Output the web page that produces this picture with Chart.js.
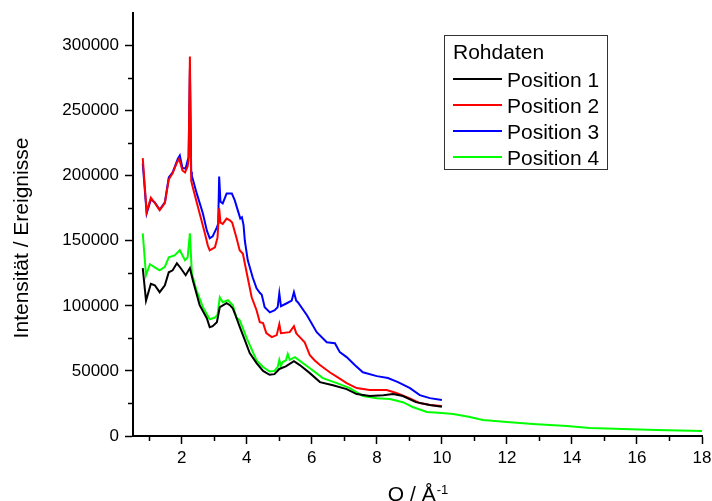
<!DOCTYPE html>
<html>
<head>
<meta charset="utf-8">
<script src="https://cdn.jsdelivr.net/npm/chart.js@4.4.0/dist/chart.umd.min.js"></script>
<style>
  body { margin: 0; background: #fff; }
</style>
</head>
<body>
<canvas id="myChart" width="712" height="501"></canvas>
<script>
// --- data ---
var seriesNames = ["Position 1", "Position 2", "Position 3", "Position 4"];
var seriesColors = ["#000000", "#ff0000", "#0000ff", "#00ff00"];
var legendTitle = "Rohdaten";

var xTicks = [2, 4, 6, 8, 10, 12, 14, 16, 18];
var xMinorTicks = [1, 3, 5, 7, 9, 11, 13, 15, 17];
var yTicks = [0, 50000, 100000, 150000, 200000, 250000, 300000];
var yMinorTicks = [25000, 75000, 125000, 175000, 225000, 275000];

// Position 1 (black)
var q1 = [0.8, 0.9, 1.05, 1.17, 1.32, 1.48, 1.6, 1.72, 1.85, 1.97, 2.12, 2.25, 2.34, 2.55, 2.77, 2.86, 2.95, 3.08, 3.17,
  3.38, 3.48, 3.57, 3.63, 3.78, 3.94, 4.09, 4.3, 4.5, 4.7, 4.85, 5.0, 5.2, 5.45, 5.63, 5.94, 6.25, 6.65, 7.07, 7.38,
  7.78, 8.2, 8.5, 8.8, 9.2, 9.63, 10.0];
var v1 = [129000, 104000, 117000, 115800, 110500, 115800, 125800, 127300, 132700, 128900, 123500, 129000, 119600, 100500,
  90500, 83600, 84400, 87400, 99000, 102000, 100500, 98000, 94300, 84000, 73600, 63700, 56000, 50000, 47000, 47500,
  51500, 53500, 57500, 54500, 48300, 41400, 39000, 36000, 32200, 30700, 31400, 32200, 30700, 26000, 23800, 22500];

// Position 2 (red)
var q2 = [0.8, 0.92, 1.05, 1.17, 1.32, 1.48, 1.6, 1.72, 1.85, 1.92, 2.02, 2.1, 2.18, 2.21, 2.25, 2.29, 2.35, 2.55, 2.71,
  2.8, 2.86, 3.02, 3.1, 3.15, 3.19, 3.26, 3.38, 3.48, 3.55, 3.68, 3.78, 3.88, 4.0, 4.15, 4.3, 4.4, 4.5, 4.6, 4.77,
  4.92, 5.0, 5.05, 5.32, 5.45, 5.52, 5.57, 5.78, 5.94, 6.09, 6.25, 6.55, 6.8, 7.07, 7.38, 7.78, 8.3, 8.6, 9.0, 9.32,
  9.63, 10.0];
var v2 = [213500, 172000, 183000, 179000, 173500, 179000, 197000, 202000, 210000, 213000, 204000, 202500, 207000, 212000,
  291500, 196000, 190000, 171000, 155700, 146500, 142700, 145000, 152600, 175000, 164000, 163000, 167000, 165700,
  164000, 152600, 142700, 140000, 125000, 106600, 96600, 87400, 86700, 79000, 76000, 77500, 86000, 79000, 79800,
  84400, 79000, 77500, 72000, 62000, 58000, 54500, 49000, 45000, 40600, 36800, 35300, 35300, 33000, 29000, 25300,
  23800, 23000];

// Position 3 (blue)
var q3 = [0.8, 0.92, 1.05, 1.17, 1.32, 1.48, 1.6, 1.72, 1.88, 1.94, 2.02, 2.12, 2.18, 2.21, 2.25, 2.29, 2.31, 2.46, 2.65,
  2.77, 2.86, 2.95, 3.08, 3.12, 3.15, 3.19, 3.26, 3.38, 3.54, 3.63, 3.74, 3.8, 3.85, 3.9, 3.94, 4.03, 4.18, 4.3, 4.4,
  4.46, 4.55, 4.71, 4.86, 4.95, 5.0, 5.05, 5.23, 5.38, 5.45, 5.52, 5.57, 5.85, 6.15, 6.46, 6.71, 6.86, 7.07, 7.32,
  7.57, 8.0, 8.34, 8.65, 9.02, 9.32, 9.63, 10.0];
var v3 = [209400, 171000, 181800, 179500, 174000, 179500, 198600, 202500, 213000, 215500, 206000, 205500, 211700, 214000,
  281500, 203000, 200000, 186400, 171000, 158000, 151900, 153400, 160300, 163000, 199400, 180000, 178700, 186400,
  186400, 181000, 172000, 167000, 168000, 162000, 150000, 135000, 122000, 113500, 110000, 108500, 99000, 95000,
  96600, 99000, 109700, 99700, 102000, 104000, 110500, 104000, 102800, 92800, 79800, 72000, 71300, 64400, 60600,
  54500, 49000, 46000, 44500, 41400, 36800, 31400, 29100, 27600];

// Position 4 (green)
var q4 = [0.8, 0.9, 1.02, 1.17, 1.32, 1.48, 1.6, 1.78, 1.94, 2.1, 2.18, 2.25, 2.31, 2.45, 2.65, 2.86, 3.02, 3.1, 3.17,
  3.26, 3.42, 3.57, 3.68, 3.78, 4.0, 4.3, 4.5, 4.7, 4.85, 4.95, 5.0, 5.05, 5.1, 5.2, 5.26, 5.32, 5.48, 5.94, 6.34,
  6.77, 7.17, 7.57, 8.0, 8.4, 8.8, 9.1, 9.54, 10.0, 10.35, 10.86, 11.26, 12.0, 12.8, 13.85, 14.55, 15.57, 16.6, 18.0];
var v4 = [155700, 123500, 132000, 129600, 127300, 130000, 137300, 138800, 142700, 135000, 137300, 155700, 125000, 112000,
  99000, 89700, 91000, 93000, 106600, 102800, 104300, 100500, 91000, 89000, 75000, 58000, 53000, 49500, 50000, 53000,
  58500, 54000, 56800, 58000, 63000, 58500, 60600, 52000, 44500, 40600, 36800, 30700, 29000, 28400, 26000, 22300,
  18400, 17600, 16900, 14600, 12300, 10700, 9200, 7700, 6100, 5400, 4600, 3800];

var qs = [q1, q2, q3, q4];
var vs = [v1, v2, v3, v4];

var FONT = "'Liberation Sans', Arial, sans-serif";

function toPoints(q, v) {
  var pts = [];
  for (var i = 0; i < q.length; i++) pts.push({ x: q[i], y: v[i] });
  return pts;
}

var datasets = [];
for (var s = 0; s < seriesNames.length; s++) {
  datasets.push({
    label: seriesNames[s],
    data: toPoints(qs[s], vs[s]),
    borderColor: seriesColors[s],
    backgroundColor: seriesColors[s],
    borderWidth: 2,
    pointRadius: 0,
    tension: 0,
    fill: false
  });
}

// minor ticks, axis titles and the boxed legend
var extras = {
  id: "extras",
  afterDraw: function (chart) {
    var ctx = chart.ctx;
    var xs = chart.scales.x, ys = chart.scales.y;
    var area = chart.chartArea;
    ctx.save();
    ctx.strokeStyle = "#000";
    ctx.lineWidth = 1.5;
    ctx.beginPath();
    yMinorTicks.forEach(function (v) {
      var py = Math.round(ys.getPixelForValue(v)) + 0.5;
      ctx.moveTo(area.left - 5, py);
      ctx.lineTo(area.left, py);
    });
    xMinorTicks.forEach(function (v) {
      var px = Math.round(xs.getPixelForValue(v)) + 0.5;
      ctx.moveTo(px, area.bottom);
      ctx.lineTo(px, area.bottom + 5);
    });
    ctx.stroke();

    // y title
    ctx.fillStyle = "#000";
    ctx.font = "21px " + FONT;
    ctx.textBaseline = "alphabetic";
    ctx.save();
    ctx.translate(28, 238);
    ctx.rotate(-Math.PI / 2);
    ctx.textAlign = "center";
    ctx.fillText("Intensität / Ereignisse", 0, 0);
    ctx.restore();

    // x title with superscript
    ctx.textAlign = "left";
    ctx.font = "21px " + FONT;
    var main = "Q / Å";
    var wMain = ctx.measureText(main).width;
    ctx.font = "13px " + FONT;
    var sup = "-1";
    var wSup = ctx.measureText(sup).width;
    var cx = (area.left + area.right) / 2;
    var start = cx - (wMain + wSup) / 2;
    ctx.font = "21px " + FONT;
    ctx.fillText(main, start, 501);
    ctx.font = "13px " + FONT;
    ctx.fillText(sup, start + wMain + 1, 494);

    // legend
    ctx.strokeStyle = "#333";
    ctx.lineWidth = 1;
    ctx.strokeRect(444.5, 35.5, 163, 134);
    ctx.font = "21px " + FONT;
    ctx.fillText(legendTitle, 453, 59);
    chart.data.datasets.forEach(function (ds, i) {
      var ly = 79 + 26 * i;
      ctx.strokeStyle = ds.borderColor;
      ctx.lineWidth = 2;
      ctx.beginPath();
      ctx.moveTo(453, ly);
      ctx.lineTo(502, ly);
      ctx.stroke();
      ctx.fillStyle = "#000";
      ctx.fillText(ds.label, 507, ly + 7.5);
    });
    ctx.restore();
  }
};

var ctx = document.getElementById("myChart").getContext("2d");
var myChart = new Chart(ctx, {
  type: "line",
  data: { datasets: datasets },
  options: {
    responsive: false,
    animation: false,
    layout: { padding: { top: 13, right: 10, left: 0, bottom: 0 } },
    plugins: {
      legend: { display: false },
      tooltip: { enabled: false }
    },
    scales: {
      x: {
        type: "linear",
        min: 0.5,
        max: 18,
        afterBuildTicks: function (scale) {
          scale.ticks = xTicks.map(function (v) { return { value: v }; });
        },
        afterFit: function (scale) {
          scale.height = 65;
          scale.paddingLeft = 0;
          scale.paddingRight = 0;
        },
        border: { display: true, color: "#000", width: 2 },
        grid: { drawOnChartArea: false, drawTicks: true, tickLength: 8, tickWidth: 1.5, tickColor: "#000" },
        ticks: {
          color: "#000",
          padding: 4,
          maxRotation: 0,
          font: { family: FONT, size: 17 },
          callback: function (v) { return String(v); }
        }
      },
      y: {
        type: "linear",
        min: 0,
        max: 325000,
        afterBuildTicks: function (scale) {
          scale.ticks = yTicks.map(function (v) { return { value: v }; });
        },
        afterFit: function (scale) {
          scale.width = 133;
          scale.paddingTop = 0;
          scale.paddingBottom = 0;
        },
        border: { display: true, color: "#000", width: 2 },
        grid: { drawOnChartArea: false, drawTicks: true, tickLength: 8, tickWidth: 1.5, tickColor: "#000" },
        ticks: {
          color: "#000",
          padding: 6,
          font: { family: FONT, size: 17 },
          callback: function (v) { return String(v); }
        }
      }
    }
  },
  plugins: [extras]
});
</script>
</body>
</html>
